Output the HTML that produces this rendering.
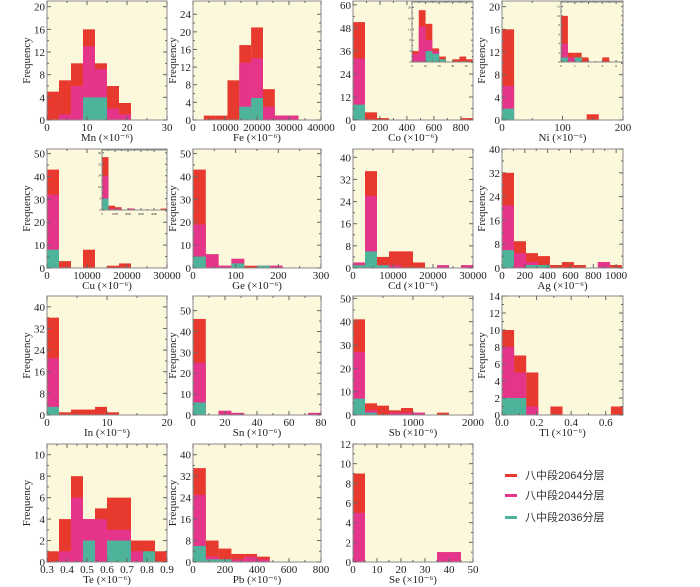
<!DOCTYPE html>
<html><head><meta charset="utf-8"><style>
html,body{margin:0;padding:0;background:#fff;width:700px;height:587px;overflow:hidden}
</style></head><body>
<svg id="chart" width="700" height="587" viewBox="0 0 700 587" xmlns="http://www.w3.org/2000/svg" font-family="'Liberation Serif', serif">
<g id="legend" font-family="'Liberation Sans','Noto Sans CJK SC',sans-serif" fill="#333">
 <g><rect x="505" y="474" width="12" height="3" fill="#e8392f"/><text x="525" y="479" font-size="11">八中段2064分层</text></g>
 <g><rect x="505" y="494" width="12" height="3" fill="#e4358b"/><text x="525" y="499" font-size="11">八中段2044分层</text></g>
 <g><rect x="505" y="516" width="12" height="3" fill="#4db39a"/><text x="525" y="521" font-size="11">八中段2036分层</text></g>
</g>
</svg>
<script>
// visible bar tops (cumulative): red = total, pink = 2044+2036, teal = 2036
const mnRed=[5,7,10,16,10,6,3], mnPink=[0,1,6,13,9,2,1], mnTeal=[0,0,0,4,4,0,0];
const feRed=[1,1,9,17,21,7,1,1], fePink=[0,0,0,13,14,3,1,1], feTeal=[0,0,0,3,5,0,0,0];
const coRed=[51,4,1,0,0,0,0,0,0,1], coPink=[32,0,0,0,0,0,0,0,0,0], coTeal=[8,0,0,0,0,0,0,0,0,0];
const coInRed=[4,19,14,5,2,0,1,2,1], coInPink=[3,13,8,4,0,0,0,0,0], coInTeal=[0,0,4,3,1,0,0,0,0];
const niRed=[16,0,0,0,0,0,0,1,0,0], niPink=[6,0,0,0,0,0,0,0,0,0], niTeal=[2,0,0,0,0,0,0,0,0,0];
const niInRed=[10,2,2,1,0,0,1], niInPink=[4,1,1,0,0,0,0], niInTeal=[1,0,1,0,0,0,0];
const cuRed=[43,3,0,8,0,1,2,0,0,0], cuPink=[32,0,0,0,0,0,0,0,0,0], cuTeal=[8,0,0,0,0,0,0,0,0,0];
const cuInRed=[37,3,2,0,1,0,0,0,0,1], cuInPink=[24,1,1,0,1,0,0,0,0,0], cuInTeal=[8,0,0,0,0,0,0,0,0,0];
const geRed=[43,6,1,4,1,1,1,0,0,0], gePink=[19,6,1,4,0,1,1,0,0,0], geTeal=[5,0,0,2,0,1,0,0,0,0];
const cdRed=[2,35,4,6,6,2,0,1,0,1], cdPink=[2,26,1,1,0,0,0,1,0,1], cdTeal=[1,6,1,0,0,0,0,0,0,0];
const agRed=[32,9,5,4,1,2,1,0,2,1], agPink=[21,5,2,1,0,0,0,0,2,0], agTeal=[6,0,1,1,0,0,0,0,0,0];
const inRed=[36,1,2,2,3,1,0,0,0,0], inPink=[21,0,0,0,0,0,0,0,0,0], inTeal=[3,0,0,0,0,0,0,0,0,0];
const snRed=[46,0,2,1,0,0,0,0,0,1], snPink=[25,0,2,1,0,0,0,0,0,1], snTeal=[6,0,0,0,0,0,0,0,0,0];
const sbRed=[41,5,4,2,3,1,0,1,0,0], sbPink=[27,2,0,1,1,1,0,0,0,0], sbTeal=[7,1,0,0,0,0,0,0,0,0];
const tlRed=[10,7,5,0,1,0,0,0,0,1], tlPink=[8,5,1,0,0,0,0,0,0,0], tlTeal=[2,2,0,0,0,0,0,0,0,0];
const teRed=[1,4,8,4,5,6,6,2,2,1], tePink=[0,1,6,4,4,3,3,1,0,0], teTeal=[0,0,0,2,0,2,2,0,1,0];
const pbRed=[35,8,5,3,3,2,0,0,0,0], pbPink=[25,2,1,1,2,1,0,0,0,0], pbTeal=[6,1,1,0,0,0,0,0,0,0];
const seRed=[9,0,0,0,0,0,0,1,1,0], sePink=[5,0,0,0,0,0,0,1,1,0], seTeal=[0,0,0,0,0,0,0,0,0,0];
// axis ticks
const mnXT=[0,10,20,30], mnYT=[0,4,8,12,16,20];
const feXT=[0,10000,20000,30000,40000], feYT=[0,4,8,12,16,20,24];
const coXT=[0,200,400,600,800], coYT=[0,12,24,36,48,60];
const niXT=[0,100,200], niYT=[0,4,8,12,16,20];
const cuXT=[0,10000,20000,30000], cuYT=[0,10,20,30,40,50];
const geXT=[0,100,200,300], geYT=[0,10,20,30,40,50];
const cdXT=[0,10000,20000,30000], cdYT=[0,8,16,24,32,40];
const agXT=[0,200,400,600,800,1000], agYT=[0,8,16,24,32,40];
const inXT=[0,10,20], inYT=[0,8,16,24,32,40];
const snXT=[0,20,40,60,80], snYT=[0,10,20,30,40,50];
const sbXT=[0,1000,2000], sbYT=[0,10,20,30,40,50];
const tlXT=[0,0.2,0.4,0.6], tlYT=[0,2,4,6,8,10,12,14];
const teXT=[0.3,0.4,0.5,0.6,0.7,0.8,0.9], teYT=[0,2,4,6,8,10];
const pbXT=[0,200,400,600,800], pbYT=[0,8,16,24,32,40];
const seXT=[0,10,20,30,40,50], seYT=[0,2,4,6,8,10,12];

const NS='http://www.w3.org/2000/svg';
const svg=document.getElementById('chart');
const COLORS=['#e8392f','#e4358b','#4db39a'];
const SERIF="'Liberation Serif', serif";
function mk(tag,attrs,parent){const e=document.createElementNS(NS,tag);for(const k in attrs)e.setAttribute(k,attrs[k]);parent.appendChild(e);return e;}

function panel(c){
  const g=mk('g',{},svg);
  
  
  const sx=v=>c.x0+(v-c.xmin)/(c.xmax-c.xmin)*(c.x1-c.x0);
  const sy=v=>c.y1-v/c.ymax*(c.y1-c.y0);
  const bg=mk('rect',{x:c.x0,y:c.y0,width:c.x1-c.x0,height:c.y1-c.y0,fill:'#fbf8dc'},g);
  
  
  [c.red,c.pink,c.teal].forEach((arr,si)=>{
    arr.forEach((v,i)=>{
      if(!v)return;
      const l=sx(c.start+i*c.width), r=Math.min(sx(c.start+(i+1)*c.width),c.x1);
      const b=mk('rect',{x:l,y:sy(v),width:r-l,height:sy(0)-sy(v),fill:COLORS[si]},g);
      
      
    });
  });
  mk('rect',{x:c.x0,y:c.y0,width:c.x1-c.x0,height:c.y1-c.y0,fill:'none',stroke:'#8a8a8a','stroke-width':1},g);
  const fs=c.fs||11, tl=c.small?2:4;
  c.xt.forEach((v,i)=>{
    const x=sx(v);
    mk('line',{x1:x,y1:c.y1,x2:x,y2:c.y1-tl,stroke:'#666'},g);
    mk('line',{x1:x,y1:c.y0,x2:x,y2:c.y0+tl,stroke:'#666'},g);
    if(i<c.xt.length-1){const xm=sx((v+c.xt[i+1])/2);
      mk('line',{x1:xm,y1:c.y1,x2:xm,y2:c.y1-tl/2,stroke:'#666'},g);
      mk('line',{x1:xm,y1:c.y0,x2:xm,y2:c.y0+tl/2,stroke:'#666'},g);}
    const t=mk('text',{x:x,y:c.y1+(c.small?5:11),'font-size':fs,'text-anchor':'middle','font-family':SERIF,fill:'#222'},g);
    t.textContent=c.xfmt?c.xfmt(v):v;
  });
  c.yt.forEach((v,i)=>{
    const y=sy(v);
    mk('line',{x1:c.x0,y1:y,x2:c.x0+tl,y2:y,stroke:'#666'},g);
    mk('line',{x1:c.x1,y1:y,x2:c.x1-tl,y2:y,stroke:'#666'},g);
    if(i<c.yt.length-1){const ym=sy((v+c.yt[i+1])/2);
      mk('line',{x1:c.x0,y1:ym,x2:c.x0+tl/2,y2:ym,stroke:'#666'},g);
      mk('line',{x1:c.x1,y1:ym,x2:c.x1-tl/2,y2:ym,stroke:'#666'},g);}
    const t=mk('text',{x:c.x0-(c.small?1:2),y:y+(c.small?1:4),'font-size':fs,'text-anchor':'end','font-family':SERIF,fill:'#222'},g);
    t.textContent=v;
  });
  if(c.label){
    const t=mk('text',{x:(c.x0+c.x1)/2,y:c.y1+21,'font-size':11,'text-anchor':'middle','font-family':SERIF,fill:'#222'},g);
    
    
    t.textContent=c.label+' (×10⁻⁶)';
  }
  if(c.freq){
    const cy=(c.y0+c.y1)/2, cx=c.x0-17;
    const t=mk('text',{x:cx,y:cy,'font-size':11,'text-anchor':'middle','font-family':SERIF,fill:'#222',transform:'rotate(-90 '+cx+' '+cy+')'},g);
    
    
    t.textContent='Frequency';
  }
}
const R1=[1,120],R2=[149,268],R3=[296,415],R4=[444,562];
const C1=[47,167],C2=[193,321],C3=[353,473],C4=[502,623];
const P=(key,col,row,o)=>panel(Object.assign({key,x0:col[0],x1:col[1],y0:row[0],y1:row[1],xmin:0},o));
P('mn',C1,R1,{xmax:30,ymax:21,start:0,width:3,red:mnRed,pink:mnPink,teal:mnTeal,xt:mnXT,yt:mnYT,label:'Mn',freq:1});
P('fe',C2,R1,{xmax:40000,ymax:27,start:3370,width:3700,red:feRed,pink:fePink,teal:feTeal,xt:feXT,yt:feYT,label:'Fe',freq:1});
P('co',C3,R1,{xmax:890,ymax:62,start:0,width:89,red:coRed,pink:coPink,teal:coTeal,xt:coXT,yt:coYT,label:'Co'});
P('ni',C4,R1,{xmax:200,ymax:21,start:0,width:20,red:niRed,pink:niPink,teal:niTeal,xt:niXT,yt:niYT,label:'Ni',freq:1});
P('co-inset',[412,473],[2,62],{xmax:45,ymax:22,start:0,width:5,red:coInRed,pink:coInPink,teal:coInTeal,xt:[0,10,20,30,40],yt:[0,4,8,12,16,20],fs:3,small:1});
P('ni-inset',[561,623],[2,62],{xmax:9,ymax:13,start:0,width:1,red:niInRed,pink:niInPink,teal:niInTeal,xt:[0,2,4,6,8],yt:[0,2,4,6,8,10,12],fs:3,small:1});
P('cu',C1,R2,{xmax:30000,ymax:52,start:0,width:3000,red:cuRed,pink:cuPink,teal:cuTeal,xt:cuXT,yt:cuYT,label:'Cu',freq:1});
P('cu-inset',[102,167],[150,210],{xmax:5000,ymax:42,start:0,width:500,red:cuInRed,pink:cuInPink,teal:cuInTeal,xt:[0,1000,2000,3000,4000],yt:[0,8,16,24,32,40],fs:3,small:1});
P('ge',C2,R2,{xmax:300,ymax:52,start:0,width:30,red:geRed,pink:gePink,teal:geTeal,xt:geXT,yt:geYT,label:'Ge',freq:1});
P('cd',C3,R2,{xmax:30000,ymax:43,start:0,width:3000,red:cdRed,pink:cdPink,teal:cdTeal,xt:cdXT,yt:cdYT,label:'Cd'});
P('ag',C4,R2,{xmax:1060,ymax:40,start:0,width:105,red:agRed,pink:agPink,teal:agTeal,xt:agXT,yt:agYT,label:'Ag',freq:1});
P('in',C1,R3,{xmax:20,ymax:44,start:0,width:2,red:inRed,pink:inPink,teal:inTeal,xt:inXT,yt:inYT,label:'In',freq:1});
P('sn',C2,R3,{xmax:80,ymax:57,start:0,width:8,red:snRed,pink:snPink,teal:snTeal,xt:snXT,yt:snYT,label:'Sn',freq:1});
P('sb',C3,R3,{xmax:2000,ymax:51,start:0,width:200,red:sbRed,pink:sbPink,teal:sbTeal,xt:sbXT,yt:sbYT,label:'Sb'});
P('tl',C4,R3,{xmax:0.7,ymax:14,start:0,width:0.07,red:tlRed,pink:tlPink,teal:tlTeal,xt:tlXT,yt:tlYT,label:'Tl',freq:1,xfmt:v=>v.toFixed(1)});
P('te',C1,R4,{xmin:0.3,xmax:0.9,ymax:11,start:0.3,width:0.06,red:teRed,pink:tePink,teal:teTeal,xt:teXT,yt:teYT,label:'Te',freq:1,xfmt:v=>v.toFixed(1)});
P('pb',C2,R4,{xmax:800,ymax:44,start:0,width:80,red:pbRed,pink:pbPink,teal:pbTeal,xt:pbXT,yt:pbYT,label:'Pb',freq:1});
P('se',C3,R4,{xmax:50,ymax:12,start:0,width:5,red:seRed,pink:sePink,teal:seTeal,xt:seXT,yt:seYT,label:'Se'});
</script>
</body></html>
